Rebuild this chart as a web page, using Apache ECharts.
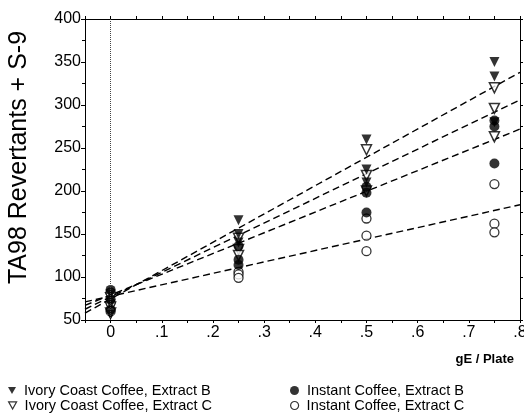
<!DOCTYPE html>
<html>
<head>
<meta charset="utf-8">
<script src="https://cdn.jsdelivr.net/npm/echarts@6/dist/echarts.min.js"></script>
<style>
html,body{margin:0;padding:0;background:#fff;}
#chart{width:524px;height:415px;}
</style>
</head>
<body>
<div id="chart"></div>
<script>
// Doses (gE / Plate)
const doses = [0, 0.25, 0.5, 0.75];
// Replicate revertant counts per dose
const ivoryB   = [[80, 68, 56], [166, 150, 140], [260, 225, 210], [350, 333, 280]];
const ivoryC   = [[76, 65, 58], [145, 132, 125], [248, 218, 200], [320, 296, 263]];
const instantB = [[85, 74, 62], [136, 120, 114], [205, 198, 175], [282, 275, 232]];
const instantC = [[82, 70, 60], [106, 103, 99], [168, 148, 130], [208, 162, 152]];
// Regression lines: x extent and y at each end
const fitX        = [-0.05, 0.8];
const fitIvoryB   = [58, 338];
const fitIvoryC   = [62.5, 306];
const fitInstantB = [67, 272];
const fitInstantC = [71, 184];

const seriesNames = [
  'Ivory Coast Coffee, Extract B',
  'Ivory Coast Coffee, Extract C',
  'Instant Coffee, Extract B',
  'Instant Coffee, Extract C'
];

function pts(reps) {
  const out = [];
  reps.forEach((r, i) => r.forEach(v => out.push([doses[i], v])));
  return out;
}
function fit(ys) { return [[fitX[0], ys[0]], [fitX[1], ys[1]]]; }

const FONT = 'Liberation Sans, Arial, Helvetica, sans-serif';
const black = '#000';
const downTri = 'path://M0,0 L10,0 L5,9 Z';

function lineSeries(ys) {
  return {
    type: 'line', data: fit(ys), symbol: 'none', silent: true, z: 1,
    lineStyle: { color: black, width: 1.4, type: [7, 4] }, legendHoverLink: false
  };
}

const legendText = { color: black, fontSize: 14.5, fontFamily: FONT, padding: [0, 0, 0, 3] };
function legendItem(item, left, top, size) {
  return {
    data: [item], orient: 'horizontal', left: left, top: top, padding: 0,
    itemWidth: size, itemHeight: size, textStyle: legendText, selectedMode: false
  };
}

const chart = echarts.init(document.getElementById('chart'), null, { renderer: 'canvas' });
chart.setOption({
  animation: false,
  backgroundColor: '#fff',
  grid: { left: 85, right: 4, top: 19, bottom: 95, containLabel: false, outerBoundsMode: 'none' },
  xAxis: [{
    type: 'value', min: -0.05, max: 0.8, interval: 0.05, position: 'bottom',
    axisLine: { onZero: false, lineStyle: { color: black, width: 1 } },
    axisTick: { show: true, inside: false, length: 3, lineStyle: { color: black } },
    splitLine: { show: false },
    axisLabel: {
      color: black, fontSize: 16, fontFamily: FONT, margin: 5,
      formatter: v => {
        const k = Math.round(v * 20);
        if (k < 0 || k % 2 !== 0) return '';
        if (k === 0) return '0';
        return '.' + (k / 2);
      }
    },
    name: 'gE / Plate', nameLocation: 'end', nameGap: 0,
    nameTextStyle: { color: black, fontSize: 13, fontWeight: 'bold', fontFamily: FONT,
      align: 'right', verticalAlign: 'top', padding: [33, 6, 0, 0] }
  }, {
    type: 'value', min: -0.05, max: 0.8, interval: 0.05, position: 'top',
    axisLine: { onZero: false, lineStyle: { color: black, width: 1 } },
    axisTick: { show: true, inside: false, length: 3, lineStyle: { color: black } },
    axisLabel: { show: false }, splitLine: { show: false }
  }],
  yAxis: [{
    type: 'value', min: 50, max: 400, interval: 50, position: 'left',
    axisLine: { show: true, onZero: false, lineStyle: { color: black, width: 1 } },
    axisTick: { show: true, inside: false, length: 4, lineStyle: { color: black } },
    minorTick: { show: true, splitNumber: 2, length: 3, lineStyle: { color: black } },
    splitLine: { show: false },
    axisLabel: { color: black, fontSize: 16, fontFamily: FONT, margin: 4 },
    name: 'TA98 Revertants + S-9', nameLocation: 'middle', nameGap: 53,
    nameTextStyle: { color: black, fontSize: 25, fontFamily: FONT, padding: [0, 0, 0, 24] }
  }, {
    type: 'value', min: 50, max: 400, interval: 50, position: 'right',
    axisLine: { show: true, onZero: false, lineStyle: { color: black, width: 1 } },
    axisTick: { show: true, inside: false, length: 3, lineStyle: { color: black } },
    minorTick: { show: true, splitNumber: 2, length: 3, lineStyle: { color: black } },
    axisLabel: { show: false }, splitLine: { show: false }
  }],
  legend: [
    legendItem({ name: seriesNames[0], icon: downTri, itemStyle: { color: black } }, 8, 383, 8),
    legendItem({ name: seriesNames[1], icon: downTri, itemStyle: { color: '#fff', borderColor: black, borderWidth: 1.2 } }, 8, 398, 8),
    legendItem({ name: seriesNames[2], icon: 'circle', itemStyle: { color: black } }, 290, 383, 9),
    legendItem({ name: seriesNames[3], icon: 'circle', itemStyle: { color: '#fff', borderColor: black, borderWidth: 1.2 } }, 290, 398, 8)
  ],
  series: [
    {
      name: seriesNames[1], type: 'scatter', data: pts(ivoryC), symbol: 'triangle', symbolRotate: 180,
      symbolSize: 10, itemStyle: { color: '#fff', borderColor: black, borderWidth: 1.5 }, z: 3,
      markLine: {
        silent: true, symbol: 'none', label: { show: false },
        lineStyle: { color: '#444', width: 1, type: 'dotted' },
        data: [{ xAxis: 0 }]
      }
    },
    {
      name: seriesNames[3], type: 'scatter', data: pts(instantC), symbol: 'circle',
      symbolSize: 9, itemStyle: { color: '#fff', borderColor: black, borderWidth: 1.3 }, z: 3
    },
    {
      name: seriesNames[0], type: 'scatter', data: pts(ivoryB), symbol: 'triangle', symbolRotate: 180,
      symbolSize: 10, itemStyle: { color: black }, z: 4
    },
    {
      name: seriesNames[2], type: 'scatter', data: pts(instantB), symbol: 'circle',
      symbolSize: 10, itemStyle: { color: black }, z: 4
    },
    lineSeries(fitIvoryB),
    lineSeries(fitIvoryC),
    lineSeries(fitInstantB),
    lineSeries(fitInstantC)
  ]
});
</script>
</body>
</html>
